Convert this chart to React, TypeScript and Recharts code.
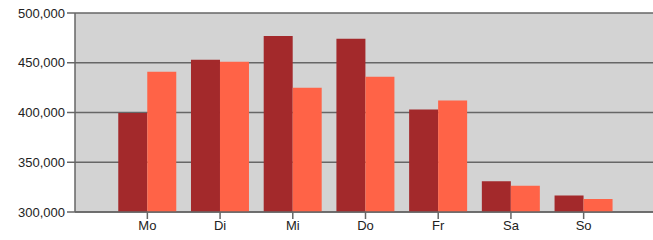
import React from 'react';
import { BarChart, Bar, XAxis, YAxis, CartesianGrid } from 'recharts';

// Wochentage, zwei Serien (dunkel / hell)
const days = ['Mo', 'Di', 'Mi', 'Do', 'Fr', 'Sa', 'So'];
const seriesA = [399500, 453000, 477000, 474000, 403000, 331000, 316500];
const seriesB = [441000, 451000, 425000, 436000, 412000, 326500, 313000];
const yTicks = [300000, 350000, 400000, 450000, 500000];

const data = days.map((day, i) => ({ day, a: seriesA[i], b: seriesB[i] }));

const tickStyle = { fill: '#222', fontSize: 13, fontFamily: '"Liberation Sans", Arial, sans-serif' };

export default function App() {
  return (
    <div style={{ position: 'absolute', left: 0, top: 0, width: 653, height: 240, overflow: 'hidden', background: '#fff' }}>
      <BarChart
        width={656}
        height={240}
        data={data}
        margin={{ top: 13, right: 0, left: 0, bottom: 0 }}
        barCategoryGap="10%"
        barGap={0}
      >
        <CartesianGrid vertical={false} fill="#d3d3d3" stroke="#666" strokeWidth={1.5} />
        <XAxis
          dataKey="day"
          height={28}
          padding={{ left: 36, right: 36 }}
          tick={tickStyle}
          tickSize={7}
          stroke="#666"
          strokeWidth={1.5}
          interval={0}
        />
        <YAxis
          width={75}
          domain={[300000, 500000]}
          ticks={yTicks}
          allowDataOverflow
          tickFormatter={(v: number) => v.toLocaleString('en-US')}
          tick={tickStyle}
          tickSize={8}
          stroke="#666"
          strokeWidth={1.5}
        />
        <Bar dataKey="a" fill="#a3292b" isAnimationActive={false} />
        <Bar dataKey="b" fill="#ff6347" isAnimationActive={false} />
      </BarChart>
    </div>
  );
}
